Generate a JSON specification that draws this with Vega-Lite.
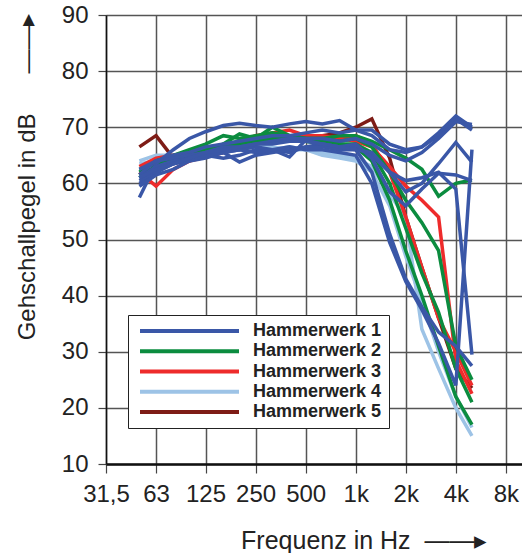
{
  "$schema": "https://vega.github.io/schema/vega-lite/v6.json",
  "width": 416,
  "height": 449,
  "autosize": {"type": "none"},
  "padding": {"left": 106, "top": 15, "right": 0, "bottom": 89},
  "config": {
    "font": "Liberation Sans",
    "view": {"stroke": null},
    "axis": {"labelFont": "Liberation Sans", "titleFont": "Liberation Sans"}
  },
  "data": {"values": [
{"hw":5,"s":"5a","f":50,"v":66.5},{"hw":5,"s":"5a","f":63,"v":68.5},{"hw":5,"s":"5a","f":80,"v":64.5},{"hw":5,"s":"5a","f":100,"v":65},{"hw":5,"s":"5a","f":125,"v":65.5},{"hw":5,"s":"5a","f":160,"v":66},{"hw":5,"s":"5a","f":200,"v":66.5},{"hw":5,"s":"5a","f":250,"v":67},{"hw":5,"s":"5a","f":315,"v":67.5},{"hw":5,"s":"5a","f":400,"v":68},{"hw":5,"s":"5a","f":500,"v":68},{"hw":5,"s":"5a","f":630,"v":68.5},{"hw":5,"s":"5a","f":800,"v":69},{"hw":5,"s":"5a","f":1000,"v":70},{"hw":5,"s":"5a","f":1250,"v":71.5},{"hw":5,"s":"5a","f":1600,"v":64.5},{"hw":5,"s":"5a","f":2000,"v":54},{"hw":5,"s":"5a","f":2500,"v":45},{"hw":5,"s":"5a","f":3150,"v":36},{"hw":5,"s":"5a","f":4000,"v":27},{"hw":5,"s":"5a","f":5000,"v":23.5},
{"hw":4,"s":"4a","f":50,"v":64},{"hw":4,"s":"4a","f":63,"v":65},{"hw":4,"s":"4a","f":80,"v":65},{"hw":4,"s":"4a","f":100,"v":65.5},{"hw":4,"s":"4a","f":125,"v":66},{"hw":4,"s":"4a","f":160,"v":66.5},{"hw":4,"s":"4a","f":200,"v":67},{"hw":4,"s":"4a","f":250,"v":67},{"hw":4,"s":"4a","f":315,"v":66.5},{"hw":4,"s":"4a","f":400,"v":66},{"hw":4,"s":"4a","f":500,"v":66},{"hw":4,"s":"4a","f":630,"v":65.5},{"hw":4,"s":"4a","f":800,"v":65},{"hw":4,"s":"4a","f":1000,"v":64.5},{"hw":4,"s":"4a","f":1250,"v":63},{"hw":4,"s":"4a","f":1600,"v":58},{"hw":4,"s":"4a","f":2000,"v":54},{"hw":4,"s":"4a","f":2500,"v":34},{"hw":4,"s":"4a","f":3150,"v":27},{"hw":4,"s":"4a","f":4000,"v":20},{"hw":4,"s":"4a","f":5000,"v":15},
{"hw":4,"s":"4b","f":50,"v":63.5},{"hw":4,"s":"4b","f":63,"v":64},{"hw":4,"s":"4b","f":80,"v":64.5},{"hw":4,"s":"4b","f":100,"v":65},{"hw":4,"s":"4b","f":125,"v":65.5},{"hw":4,"s":"4b","f":160,"v":66},{"hw":4,"s":"4b","f":200,"v":66},{"hw":4,"s":"4b","f":250,"v":66.5},{"hw":4,"s":"4b","f":315,"v":66},{"hw":4,"s":"4b","f":400,"v":66.5},{"hw":4,"s":"4b","f":500,"v":66},{"hw":4,"s":"4b","f":630,"v":65},{"hw":4,"s":"4b","f":800,"v":64.5},{"hw":4,"s":"4b","f":1000,"v":64},{"hw":4,"s":"4b","f":1250,"v":62},{"hw":4,"s":"4b","f":1600,"v":56},{"hw":4,"s":"4b","f":2000,"v":47},{"hw":4,"s":"4b","f":2500,"v":39},{"hw":4,"s":"4b","f":3150,"v":30},{"hw":4,"s":"4b","f":4000,"v":22},{"hw":4,"s":"4b","f":5000,"v":16.5},
{"hw":3,"s":"3a","f":50,"v":62},{"hw":3,"s":"3a","f":63,"v":59.5},{"hw":3,"s":"3a","f":80,"v":62.5},{"hw":3,"s":"3a","f":100,"v":64},{"hw":3,"s":"3a","f":125,"v":64.7},{"hw":3,"s":"3a","f":160,"v":65.5},{"hw":3,"s":"3a","f":200,"v":66.5},{"hw":3,"s":"3a","f":250,"v":67},{"hw":3,"s":"3a","f":315,"v":68},{"hw":3,"s":"3a","f":400,"v":68.5},{"hw":3,"s":"3a","f":500,"v":68.5},{"hw":3,"s":"3a","f":630,"v":68},{"hw":3,"s":"3a","f":800,"v":68},{"hw":3,"s":"3a","f":1000,"v":67.5},{"hw":3,"s":"3a","f":1250,"v":66.5},{"hw":3,"s":"3a","f":1600,"v":63},{"hw":3,"s":"3a","f":2000,"v":59.5},{"hw":3,"s":"3a","f":2500,"v":57},{"hw":3,"s":"3a","f":3150,"v":54},{"hw":3,"s":"3a","f":4000,"v":28.5},{"hw":3,"s":"3a","f":5000,"v":22.5},
{"hw":3,"s":"3b","f":50,"v":63},{"hw":3,"s":"3b","f":63,"v":64.5},{"hw":3,"s":"3b","f":80,"v":65},{"hw":3,"s":"3b","f":100,"v":65.5},{"hw":3,"s":"3b","f":125,"v":66},{"hw":3,"s":"3b","f":160,"v":66.5},{"hw":3,"s":"3b","f":200,"v":67.5},{"hw":3,"s":"3b","f":250,"v":68.5},{"hw":3,"s":"3b","f":315,"v":69},{"hw":3,"s":"3b","f":400,"v":69.5},{"hw":3,"s":"3b","f":500,"v":68.5},{"hw":3,"s":"3b","f":630,"v":68.5},{"hw":3,"s":"3b","f":800,"v":68},{"hw":3,"s":"3b","f":1000,"v":68.5},{"hw":3,"s":"3b","f":1250,"v":67},{"hw":3,"s":"3b","f":1600,"v":62},{"hw":3,"s":"3b","f":2000,"v":54},{"hw":3,"s":"3b","f":2500,"v":45},{"hw":3,"s":"3b","f":3150,"v":36},{"hw":3,"s":"3b","f":4000,"v":30},{"hw":3,"s":"3b","f":5000,"v":24},
{"hw":2,"s":"2a","f":50,"v":61},{"hw":2,"s":"2a","f":63,"v":63},{"hw":2,"s":"2a","f":80,"v":64.5},{"hw":2,"s":"2a","f":100,"v":65.5},{"hw":2,"s":"2a","f":125,"v":66},{"hw":2,"s":"2a","f":160,"v":67},{"hw":2,"s":"2a","f":200,"v":68.8},{"hw":2,"s":"2a","f":250,"v":68},{"hw":2,"s":"2a","f":315,"v":70},{"hw":2,"s":"2a","f":400,"v":68.5},{"hw":2,"s":"2a","f":500,"v":68},{"hw":2,"s":"2a","f":630,"v":68},{"hw":2,"s":"2a","f":800,"v":68.5},{"hw":2,"s":"2a","f":1000,"v":68.5},{"hw":2,"s":"2a","f":1250,"v":67.5},{"hw":2,"s":"2a","f":1600,"v":66},{"hw":2,"s":"2a","f":2000,"v":64.5},{"hw":2,"s":"2a","f":2500,"v":62.5},{"hw":2,"s":"2a","f":3150,"v":57.7},{"hw":2,"s":"2a","f":4000,"v":60},{"hw":2,"s":"2a","f":5000,"v":60.6},
{"hw":2,"s":"2b","f":50,"v":62},{"hw":2,"s":"2b","f":63,"v":64},{"hw":2,"s":"2b","f":80,"v":65},{"hw":2,"s":"2b","f":100,"v":66},{"hw":2,"s":"2b","f":125,"v":67},{"hw":2,"s":"2b","f":160,"v":68.5},{"hw":2,"s":"2b","f":200,"v":68},{"hw":2,"s":"2b","f":250,"v":68.5},{"hw":2,"s":"2b","f":315,"v":69},{"hw":2,"s":"2b","f":400,"v":68.5},{"hw":2,"s":"2b","f":500,"v":68},{"hw":2,"s":"2b","f":630,"v":68},{"hw":2,"s":"2b","f":800,"v":67.5},{"hw":2,"s":"2b","f":1000,"v":68},{"hw":2,"s":"2b","f":1250,"v":66.5},{"hw":2,"s":"2b","f":1600,"v":62},{"hw":2,"s":"2b","f":2000,"v":57},{"hw":2,"s":"2b","f":2500,"v":53},{"hw":2,"s":"2b","f":3150,"v":48},{"hw":2,"s":"2b","f":4000,"v":31},{"hw":2,"s":"2b","f":5000,"v":25},
{"hw":2,"s":"2c","f":50,"v":62.5},{"hw":2,"s":"2c","f":63,"v":63.5},{"hw":2,"s":"2c","f":80,"v":64.5},{"hw":2,"s":"2c","f":100,"v":65},{"hw":2,"s":"2c","f":125,"v":66},{"hw":2,"s":"2c","f":160,"v":67},{"hw":2,"s":"2c","f":200,"v":67.5},{"hw":2,"s":"2c","f":250,"v":67.5},{"hw":2,"s":"2c","f":315,"v":68},{"hw":2,"s":"2c","f":400,"v":68},{"hw":2,"s":"2c","f":500,"v":68},{"hw":2,"s":"2c","f":630,"v":67.5},{"hw":2,"s":"2c","f":800,"v":67},{"hw":2,"s":"2c","f":1000,"v":67},{"hw":2,"s":"2c","f":1250,"v":65.5},{"hw":2,"s":"2c","f":1600,"v":60},{"hw":2,"s":"2c","f":2000,"v":52},{"hw":2,"s":"2c","f":2500,"v":44},{"hw":2,"s":"2c","f":3150,"v":37},{"hw":2,"s":"2c","f":4000,"v":27},{"hw":2,"s":"2c","f":5000,"v":21},
{"hw":2,"s":"2d","f":50,"v":61.5},{"hw":2,"s":"2d","f":63,"v":63},{"hw":2,"s":"2d","f":80,"v":64},{"hw":2,"s":"2d","f":100,"v":65},{"hw":2,"s":"2d","f":125,"v":65.5},{"hw":2,"s":"2d","f":160,"v":66.5},{"hw":2,"s":"2d","f":200,"v":67},{"hw":2,"s":"2d","f":250,"v":67},{"hw":2,"s":"2d","f":315,"v":67.5},{"hw":2,"s":"2d","f":400,"v":67.5},{"hw":2,"s":"2d","f":500,"v":67.5},{"hw":2,"s":"2d","f":630,"v":67},{"hw":2,"s":"2d","f":800,"v":66.5},{"hw":2,"s":"2d","f":1000,"v":66.5},{"hw":2,"s":"2d","f":1250,"v":64},{"hw":2,"s":"2d","f":1600,"v":57},{"hw":2,"s":"2d","f":2000,"v":48},{"hw":2,"s":"2d","f":2500,"v":40},{"hw":2,"s":"2d","f":3150,"v":31},{"hw":2,"s":"2d","f":4000,"v":22},{"hw":2,"s":"2d","f":5000,"v":17},
{"hw":1,"s":"1a","f":50,"v":57.5},{"hw":1,"s":"1a","f":63,"v":63.5},{"hw":1,"s":"1a","f":80,"v":66},{"hw":1,"s":"1a","f":100,"v":68},{"hw":1,"s":"1a","f":125,"v":69.2},{"hw":1,"s":"1a","f":160,"v":70.3},{"hw":1,"s":"1a","f":200,"v":70.7},{"hw":1,"s":"1a","f":250,"v":70.3},{"hw":1,"s":"1a","f":315,"v":70},{"hw":1,"s":"1a","f":400,"v":70.6},{"hw":1,"s":"1a","f":500,"v":71},{"hw":1,"s":"1a","f":630,"v":70.6},{"hw":1,"s":"1a","f":800,"v":71.2},{"hw":1,"s":"1a","f":1000,"v":69.5},{"hw":1,"s":"1a","f":1250,"v":69.5},{"hw":1,"s":"1a","f":1600,"v":67},{"hw":1,"s":"1a","f":2000,"v":66},{"hw":1,"s":"1a","f":2500,"v":66.5},{"hw":1,"s":"1a","f":3150,"v":69},{"hw":1,"s":"1a","f":4000,"v":72},{"hw":1,"s":"1a","f":5000,"v":70},
{"hw":1,"s":"1b","f":50,"v":61.5},{"hw":1,"s":"1b","f":63,"v":64},{"hw":1,"s":"1b","f":80,"v":65},{"hw":1,"s":"1b","f":100,"v":65.5},{"hw":1,"s":"1b","f":125,"v":66.5},{"hw":1,"s":"1b","f":160,"v":67},{"hw":1,"s":"1b","f":200,"v":67.5},{"hw":1,"s":"1b","f":250,"v":68},{"hw":1,"s":"1b","f":315,"v":68.5},{"hw":1,"s":"1b","f":400,"v":68.5},{"hw":1,"s":"1b","f":500,"v":69},{"hw":1,"s":"1b","f":630,"v":69.5},{"hw":1,"s":"1b","f":800,"v":69},{"hw":1,"s":"1b","f":1000,"v":69.5},{"hw":1,"s":"1b","f":1250,"v":68.5},{"hw":1,"s":"1b","f":1600,"v":66},{"hw":1,"s":"1b","f":2000,"v":65.5},{"hw":1,"s":"1b","f":2500,"v":66.5},{"hw":1,"s":"1b","f":3150,"v":68.5},{"hw":1,"s":"1b","f":4000,"v":71.5},{"hw":1,"s":"1b","f":5000,"v":69.5},
{"hw":1,"s":"1c","f":50,"v":62.5},{"hw":1,"s":"1c","f":63,"v":64},{"hw":1,"s":"1c","f":80,"v":64.5},{"hw":1,"s":"1c","f":100,"v":65},{"hw":1,"s":"1c","f":125,"v":65.5},{"hw":1,"s":"1c","f":160,"v":66.5},{"hw":1,"s":"1c","f":200,"v":66.5},{"hw":1,"s":"1c","f":250,"v":67},{"hw":1,"s":"1c","f":315,"v":67.5},{"hw":1,"s":"1c","f":400,"v":68},{"hw":1,"s":"1c","f":500,"v":68},{"hw":1,"s":"1c","f":630,"v":68},{"hw":1,"s":"1c","f":800,"v":67.5},{"hw":1,"s":"1c","f":1000,"v":68},{"hw":1,"s":"1c","f":1250,"v":67},{"hw":1,"s":"1c","f":1600,"v":65},{"hw":1,"s":"1c","f":2000,"v":64},{"hw":1,"s":"1c","f":2500,"v":65.5},{"hw":1,"s":"1c","f":3150,"v":68},{"hw":1,"s":"1c","f":4000,"v":71},{"hw":1,"s":"1c","f":5000,"v":70.5},
{"hw":1,"s":"1d","f":50,"v":60},{"hw":1,"s":"1d","f":63,"v":62},{"hw":1,"s":"1d","f":80,"v":63.5},{"hw":1,"s":"1d","f":100,"v":64.5},{"hw":1,"s":"1d","f":125,"v":65},{"hw":1,"s":"1d","f":160,"v":65.5},{"hw":1,"s":"1d","f":200,"v":66},{"hw":1,"s":"1d","f":250,"v":66.5},{"hw":1,"s":"1d","f":315,"v":66},{"hw":1,"s":"1d","f":400,"v":65.5},{"hw":1,"s":"1d","f":500,"v":66.5},{"hw":1,"s":"1d","f":630,"v":67},{"hw":1,"s":"1d","f":800,"v":66.5},{"hw":1,"s":"1d","f":1000,"v":66.5},{"hw":1,"s":"1d","f":1250,"v":65},{"hw":1,"s":"1d","f":1600,"v":62},{"hw":1,"s":"1d","f":2000,"v":58.5},{"hw":1,"s":"1d","f":2500,"v":60},{"hw":1,"s":"1d","f":3150,"v":63.5},{"hw":1,"s":"1d","f":4000,"v":67.3},{"hw":1,"s":"1d","f":5000,"v":63.8},
{"hw":1,"s":"1e","f":50,"v":61},{"hw":1,"s":"1e","f":63,"v":63},{"hw":1,"s":"1e","f":80,"v":64},{"hw":1,"s":"1e","f":100,"v":64.5},{"hw":1,"s":"1e","f":125,"v":65},{"hw":1,"s":"1e","f":160,"v":64.5},{"hw":1,"s":"1e","f":200,"v":65},{"hw":1,"s":"1e","f":250,"v":66},{"hw":1,"s":"1e","f":315,"v":66},{"hw":1,"s":"1e","f":400,"v":64.7},{"hw":1,"s":"1e","f":500,"v":67.7},{"hw":1,"s":"1e","f":630,"v":67},{"hw":1,"s":"1e","f":800,"v":66.5},{"hw":1,"s":"1e","f":1000,"v":67},{"hw":1,"s":"1e","f":1250,"v":64.5},{"hw":1,"s":"1e","f":1600,"v":58.5},{"hw":1,"s":"1e","f":2000,"v":56},{"hw":1,"s":"1e","f":2500,"v":59},{"hw":1,"s":"1e","f":3150,"v":61.8},{"hw":1,"s":"1e","f":4000,"v":61.5},{"hw":1,"s":"1e","f":5000,"v":60.5},
{"hw":1,"s":"1f","f":50,"v":60.5},{"hw":1,"s":"1f","f":63,"v":62},{"hw":1,"s":"1f","f":80,"v":63.5},{"hw":1,"s":"1f","f":100,"v":64},{"hw":1,"s":"1f","f":125,"v":64.5},{"hw":1,"s":"1f","f":160,"v":65.5},{"hw":1,"s":"1f","f":200,"v":63.8},{"hw":1,"s":"1f","f":250,"v":65},{"hw":1,"s":"1f","f":315,"v":65.5},{"hw":1,"s":"1f","f":400,"v":66},{"hw":1,"s":"1f","f":500,"v":66.5},{"hw":1,"s":"1f","f":630,"v":66.5},{"hw":1,"s":"1f","f":800,"v":66},{"hw":1,"s":"1f","f":1000,"v":66},{"hw":1,"s":"1f","f":1250,"v":65.5},{"hw":1,"s":"1f","f":1600,"v":62},{"hw":1,"s":"1f","f":2000,"v":60.5},{"hw":1,"s":"1f","f":2500,"v":61},{"hw":1,"s":"1f","f":3150,"v":62},{"hw":1,"s":"1f","f":4000,"v":59},{"hw":1,"s":"1f","f":5000,"v":29.5},
{"hw":1,"s":"1g","f":50,"v":59.5},{"hw":1,"s":"1g","f":63,"v":61.5},{"hw":1,"s":"1g","f":80,"v":62.5},{"hw":1,"s":"1g","f":100,"v":64},{"hw":1,"s":"1g","f":125,"v":65},{"hw":1,"s":"1g","f":160,"v":65.5},{"hw":1,"s":"1g","f":200,"v":66},{"hw":1,"s":"1g","f":250,"v":65.5},{"hw":1,"s":"1g","f":315,"v":66},{"hw":1,"s":"1g","f":400,"v":66.5},{"hw":1,"s":"1g","f":500,"v":66},{"hw":1,"s":"1g","f":630,"v":66},{"hw":1,"s":"1g","f":800,"v":65.5},{"hw":1,"s":"1g","f":1000,"v":65},{"hw":1,"s":"1g","f":1250,"v":60},{"hw":1,"s":"1g","f":1600,"v":49.5},{"hw":1,"s":"1g","f":2000,"v":42.5},{"hw":1,"s":"1g","f":2500,"v":37.5},{"hw":1,"s":"1g","f":3150,"v":31.5},{"hw":1,"s":"1g","f":4000,"v":24},{"hw":1,"s":"1g","f":5000,"v":66},
{"hw":1,"s":"1h","f":50,"v":61},{"hw":1,"s":"1h","f":63,"v":62.5},{"hw":1,"s":"1h","f":80,"v":63.5},{"hw":1,"s":"1h","f":100,"v":64.5},{"hw":1,"s":"1h","f":125,"v":65.5},{"hw":1,"s":"1h","f":160,"v":66},{"hw":1,"s":"1h","f":200,"v":66.5},{"hw":1,"s":"1h","f":250,"v":67},{"hw":1,"s":"1h","f":315,"v":67},{"hw":1,"s":"1h","f":400,"v":67.5},{"hw":1,"s":"1h","f":500,"v":67.5},{"hw":1,"s":"1h","f":630,"v":67},{"hw":1,"s":"1h","f":800,"v":66.5},{"hw":1,"s":"1h","f":1000,"v":66},{"hw":1,"s":"1h","f":1250,"v":62},{"hw":1,"s":"1h","f":1600,"v":51},{"hw":1,"s":"1h","f":2000,"v":43},{"hw":1,"s":"1h","f":2500,"v":38},{"hw":1,"s":"1h","f":3150,"v":33.5},{"hw":1,"s":"1h","f":4000,"v":31},{"hw":1,"s":"1h","f":5000,"v":27.5}
  ]},
  "mark": {"type": "line", "strokeWidth": 3.5, "clip": true},
  "encoding": {
    "x": {
      "field": "f", "type": "quantitative",
      "scale": {"type": "log", "domain": [31.5, 10000], "nice": false},
      "axis": {
        "values": [31.5, 63, 125, 250, 500, 1000, 2000, 4000, 8000],
        "labelExpr": "datum.value == 31.5 ? '31,5' : (datum.value >= 1000 ? (datum.value / 1000) + 'k' : '' + datum.value)",
        "labelFontSize": 24, "labelColor": "#222", "labelPadding": 9, "labelOverlap": false, "labelFlush": false,
        "grid": true, "gridColor": "#555", "gridWidth": 1.5,
        "tickSize": 9, "tickColor": "#444", "tickWidth": 1.2,
        "domainColor": "#111", "domainWidth": 2.5,
        "title": "Frequenz in Hz\u00a0\u00a0――▸",
        "titleFontSize": 25, "titleFontWeight": "normal", "titleColor": "#222",
        "titleX": 381, "titleY": 76, "titleAlign": "right", "titleBaseline": "middle"
      }
    },
    "y": {
      "field": "v", "type": "quantitative",
      "scale": {"domain": [10, 90], "nice": false, "zero": false},
      "axis": {
        "values": [10, 20, 30, 40, 50, 60, 70, 80, 90],
        "labelFontSize": 24, "labelColor": "#222", "labelPadding": 10, "labelFlush": false,
        "grid": true, "gridColor": "#555", "gridWidth": 1.5,
        "tickSize": 8, "tickColor": "#444", "tickWidth": 1.2,
        "domainColor": "#111", "domainWidth": 1.5,
        "title": "Gehschallpegel in dB\u00a0\u00a0\u00a0\u00a0\u00a0\u00a0――▸",
        "titleFontSize": 24, "titleFontWeight": "normal", "titleColor": "#222",
        "titleAngle": -90, "titleX": -79, "titleY": -2, "titleAlign": "right", "titleBaseline": "middle"
      }
    },
    "color": {
      "field": "hw", "type": "nominal",
      "scale": {"domain": [1, 2, 3, 4, 5], "range": ["#3A57A7", "#0B8C3F", "#EE2B2B", "#9DC3E6", "#7E1C16"]},
      "legend": {
        "title": null, "orient": "none", "legendX": 22, "legendY": 300,
        "direction": "vertical",
        "strokeColor": "#222", "fillColor": "white", "padding": 7,
        "symbolType": "stroke", "symbolSize": 9801, "symbolStrokeWidth": 4,
        "clipHeight": 18, "rowPadding": 2.25, "labelOffset": 12, "symbolOffset": 3,
        "labelFontSize": 18, "labelFontWeight": "bold", "labelColor": "#222",
        "labelExpr": "'Hammerwerk ' + datum.label"
      }
    },
    "detail": {"field": "s", "type": "nominal"}
  }
}
